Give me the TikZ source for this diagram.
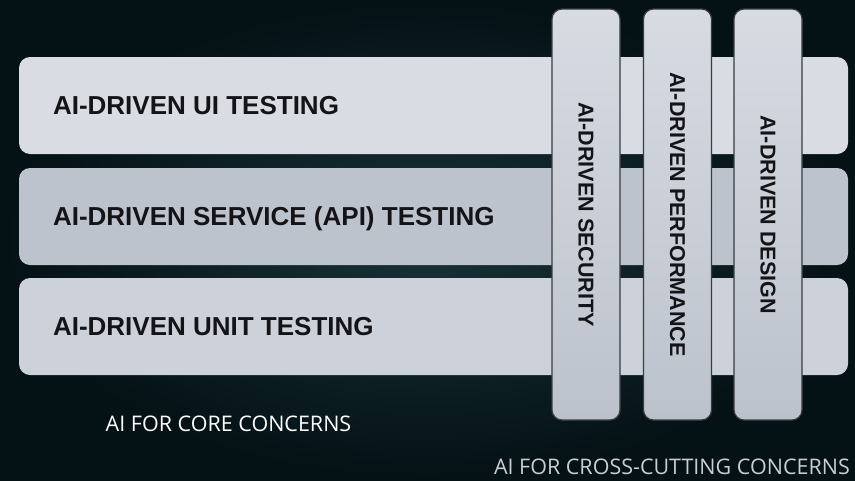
\documentclass[tikz,border=0pt]{standalone}
\usepackage{fontspec}
\newfontfamily\barfont{Liberation Sans}
\newfontfamily\notefont{Open Sans}
\usetikzlibrary{positioning,calc}

\definecolor{bgin}{RGB}{24,50,56}
\definecolor{bgout}{RGB}{4,17,21}
\definecolor{layerui}{RGB}{217,220,227}
\definecolor{layerapi}{RGB}{189,195,205}
\definecolor{layerunit}{RGB}{205,210,218}
\definecolor{coltop}{RGB}{215,219,226}
\definecolor{colbot}{RGB}{188,194,204}
\definecolor{coledge}{RGB}{58,60,64}
\definecolor{inkdark}{RGB}{20,20,24}
\definecolor{notegray}{RGB}{200,206,210}

\tikzset{
  layer/.style={rectangle, rounded corners=11pt, inner sep=0pt, minimum width=829pt, minimum height=97pt},
  column/.style={rectangle, rounded corners=10pt, draw=coledge, line width=1.2pt, top color=coltop, bottom color=colbot, inner sep=0pt, minimum width=68pt, minimum height=411pt},
  layertext/.style={font=\barfont\bfseries\fontsize{26}{30}\selectfont, text=inkdark, inner sep=0pt, text height=18.7pt, text depth=0pt},
  columntext/.style={font=\barfont\bfseries\fontsize{21.5}{24}\selectfont, text=inkdark, inner sep=0pt, rotate=-90},
  notetext/.style={font=\notefont\fontsize{21.5}{24}\selectfont, inner sep=0pt}
}

\begin{document}
\begin{tikzpicture}[x=1pt,y=-1pt]
    %Canvas - 855 x 480, y runs downwards%
    %===========================================================
    \useasboundingbox (0,0) rectangle (855,480);
    \shade[inner color=bgin, outer color=bgout] (0,0) rectangle (855,480); %Dark background
    \def \LayerX {433.5}; %Centre of the horizontal layers
    \def \ColY {214.5}; %Centre of the vertical columns
    %Core layers%
    %===========================================================
    \node[layer, fill=layerui]   (ui)   at (\LayerX,105.5) {};
    \node[layer, fill=layerapi]  (api)  at (\LayerX,216.5) {};
    \node[layer, fill=layerunit] (unit) at (\LayerX,326.5) {};
    \node[layertext, right=34pt of ui.west]   (uitext)   {AI-DRIVEN UI TESTING};
    \node[layertext, right=34pt of api.west]  (apitext)  {AI-DRIVEN SERVICE (API) TESTING};
    \node[layertext, right=34pt of unit.west] (unittext) {AI-DRIVEN UNIT TESTING};
    %Cross-cutting columns, drawn over the layers%
    %===========================================================
    \node[column] (security)    at (586,\ColY)   {};
    \node[column] (performance) at (677.5,\ColY) {};
    \node[column] (design)      at (768,\ColY)   {};
    \node[columntext] (sectext)  at (security.center)    {AI-DRIVEN SECURITY};
    \node[columntext] (perftext) at (performance.center) {AI-DRIVEN PERFORMANCE};
    \node[columntext] (destext)  at (design.center)      {AI-DRIVEN DESIGN};
    %Captions%
    \node[notetext, text=white] (core) at (228.5,424) {AI FOR CORE CONCERNS};
    \node[notetext, text=notegray, anchor=east] (cross) at (850,467) {AI FOR CROSS-CUTTING CONCERNS};
\end{tikzpicture}
\end{document}
